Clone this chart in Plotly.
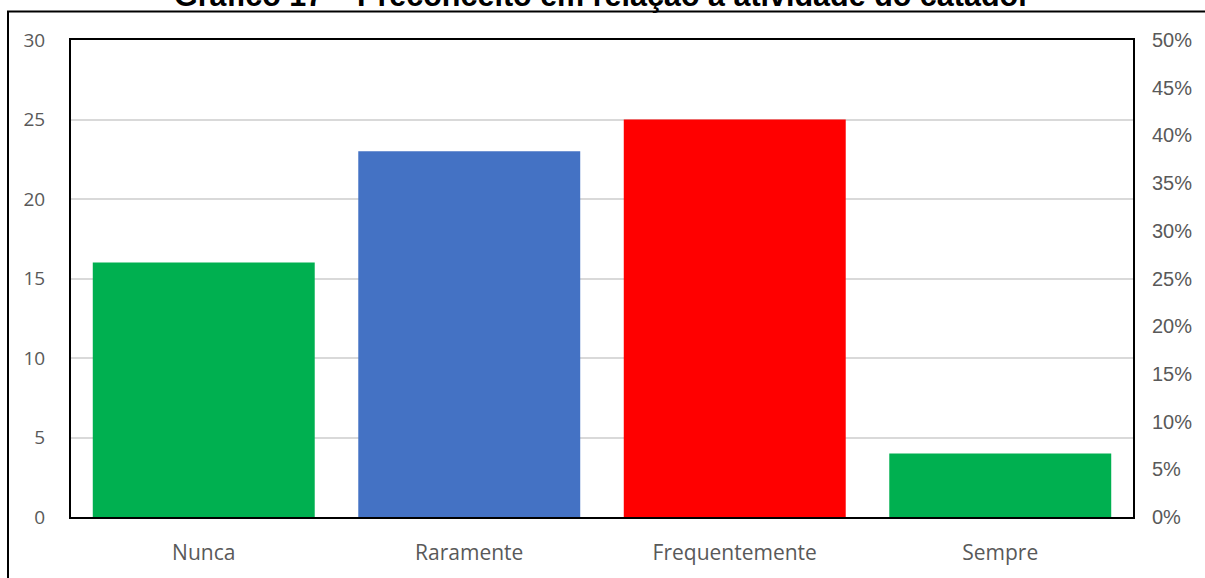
import plotly.graph_objects as go

categories = ["Nunca", "Raramente", "Frequentemente", "Sempre"]
values = [16, 23, 25, 4]
colors = ["#00B050", "#4472C4", "#FF0000", "#00B050"]
left_ticks = [0, 5, 10, 15, 20, 25, 30]
right_ticks = [0, 0.05, 0.10, 0.15, 0.20, 0.25, 0.30, 0.35, 0.40, 0.45, 0.50]
title_text = "Gráfico 17 – Preconceito em relação à atividade do catador"

total = sum(values)
pct = [v / total for v in values]

fig = go.Figure()
fig.add_trace(go.Bar(x=categories, y=values, marker=dict(color=colors, line=dict(width=0)),
                     hoverinfo="x+y", showlegend=False))
fig.add_trace(go.Scatter(x=categories, y=pct, yaxis="y2", mode="markers",
                         marker=dict(opacity=0), hoverinfo="skip", showlegend=False))

W, H = 1205, 578
L, T = 71, 40
R = W - 1133
B = H - 525
pw = W - L - R
ph = H - T - B

def px_x(px):
    return (px - L) / pw

def px_y(py):
    return (H - B - py) / ph

fig.update_layout(
    width=W, height=H,
    margin=dict(l=L, r=R, t=T, b=B, pad=0),
    paper_bgcolor="white", plot_bgcolor="white",
    bargap=0.164,
    xaxis=dict(showline=True, linecolor="black", linewidth=2, mirror=True,
               showgrid=False, ticks="", ticklabelstandoff=16,
               tickfont=dict(family="Open Sans", size=21, color="#595959")),
    yaxis=dict(range=[0, 30], tickvals=left_ticks, showline=True, linecolor="black",
               linewidth=2, mirror=True, showgrid=True, gridcolor="#D9D9D9", gridwidth=1.5,
               zeroline=False, ticks="", ticklabelstandoff=20,
               tickfont=dict(family="Open Sans", size=19, color="#595959")),
    yaxis2=dict(range=[0, 0.5], tickvals=right_ticks, tickformat=".0%", overlaying="y",
                side="right", showgrid=False, zeroline=False, showline=False, ticks="",
                ticklabelstandoff=18,
                tickfont=dict(family="Liberation Sans", size=20, color="#595959")),
    annotations=[dict(text="<b>" + title_text + "</b>", xref="paper", yref="paper",
                      x=px_x(602), y=px_y(15), xanchor="center", yanchor="bottom",
                      showarrow=False,
                      font=dict(family="Liberation Sans", size=30.5, color="black"))],
    shapes=[dict(type="rect", xref="paper", yref="paper",
                 x0=px_x(8), x1=px_x(1240), y0=px_y(11), y1=px_y(620),
                 line=dict(color="black", width=2), fillcolor="rgba(0,0,0,0)", layer="above")],
)

fig.write_html("out.html", config={"displayModeBar": False},
               post_script="document.body.style.margin='0';")
